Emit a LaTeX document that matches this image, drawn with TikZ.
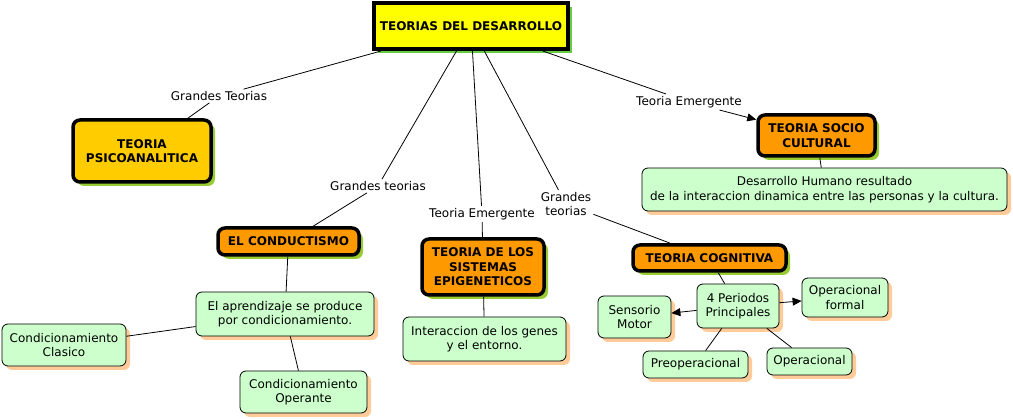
\documentclass[tikz,border=0pt]{standalone}
\usepackage{fontspec}
\setmainfont{DejaVu Sans}
\usetikzlibrary{shadows,arrows.meta}
\definecolor{rootfill}{HTML}{FFFF00}
\definecolor{goldfill}{HTML}{FFCC00}
\definecolor{orangefill}{HTML}{FF9900}
\definecolor{ideafill}{HTML}{CCFFCC}
\definecolor{greenshade}{HTML}{99CC33}
\definecolor{rootshade}{HTML}{66CC44}
\definecolor{tanshade}{HTML}{FFCC99}
\begin{document}
\begin{tikzpicture}[x=1pt,y=-1pt,
  every node/.style={font=\fontsize{12}{14.5}\selectfont, align=center, inner sep=1pt},
  root/.style={rectangle, draw, line width=4pt, fill=rootfill, font=\fontsize{12}{14.5}\selectfont\bfseries,
    drop shadow={shadow xshift=4pt, shadow yshift=-4pt, fill=rootshade, opacity=1}},
  theory/.style={rectangle, rounded corners=7pt, draw, line width=3.5pt, fill=orangefill, font=\fontsize{12}{14.5}\selectfont\bfseries,
    drop shadow={shadow xshift=4pt, shadow yshift=-4pt, fill=greenshade, opacity=1}},
  idea/.style={rectangle, rounded corners=6pt, draw, line width=0.8pt, fill=ideafill,
    drop shadow={shadow xshift=4pt, shadow yshift=-4pt, fill=tanshade, opacity=1}},
  link/.style={fill=white, inner sep=2pt},
  conn/.style={line width=0.8pt},
  arr/.style={line width=0.8pt, -{Triangle[length=9pt,width=8pt]}}]
\useasboundingbox (0,0) rectangle (1013,419);
% theories
\node[root, minimum width=194, minimum height=46] (teo0) at (471,26){TEORIAS DEL DESARROLLO};
\node[theory, fill=goldfill, minimum width=138, minimum height=62] (teo1) at (142,151){TEORIA\\PSICOANALITICA};
\node[theory, minimum width=141, minimum height=27] (teo2) at (288.5,241.5){EL CONDUCTISMO};
\node[theory, minimum width=122, minimum height=56] (teo3) at (483,267){TEORIA DE LOS\\SISTEMAS\\EPIGENETICOS};
\node[theory, minimum width=153, minimum height=26] (teo4) at (709.5,258){TEORIA COGNITIVA};
\node[theory, minimum width=117, minimum height=41] (teo5) at (816.5,135.5){TEORIA SOCIO\\CULTURAL};
% link labels
\node[link] (lab1) at (219,96){Grandes Teorias};
\node[link] (lab2) at (378,186){Grandes teorias};
\node[link] (lab3) at (482,214){Teoria Emergente};
\node[link] (lab4) at (566,204){Grandes\\teorias};
\node[link] (lab5) at (689,102){Teoria Emergente};
\draw[conn](teo0) -- (lab1);
\draw[conn](lab1) -- (teo1);
\draw[conn](teo0) -- (lab2);
\draw[conn](lab2) -- (teo2);
\draw[conn](teo0) -- (lab3);
\draw[conn](lab3) -- (teo3);
\draw[conn](teo0) -- (lab4);
\draw[conn](lab4) -- (teo4);
\draw[conn](teo0) -- (lab5);
\draw[arr](lab5) -- (teo5);
% ideas
\node[idea, minimum width=365, minimum height=43] (box1) at (824.5,189.5){Desarrollo Humano resultado\\de la interaccion dinamica entre las personas y la cultura.};
\node[idea, minimum width=178, minimum height=44] (box2) at (285,314){El aprendizaje se produce\\por condicionamiento.};
\node[idea, minimum width=124, minimum height=42] (box3) at (64,345){Condicionamiento\\Clasico};
\node[idea, minimum width=127, minimum height=42] (box4) at (303.5,392){Condicionamiento\\Operante};
\node[idea, minimum width=163, minimum height=44] (box5) at (484.5,339){Interaccion de los genes\\y el entorno.};
\node[idea, minimum width=82, minimum height=44] (box6) at (738,306){4 Periodos\\Principales};
\node[idea, minimum width=73, minimum height=42] (box7) at (634.5,317){Sensorio\\Motor};
\node[idea, minimum width=86, minimum height=39] (box8) at (845,297.5){Operacional\\formal};
\node[idea, minimum width=105, minimum height=27] (box9) at (695.5,364.5){Preoperacional};
\node[idea, minimum width=85, minimum height=27] (box10) at (809.5,361.5){Operacional};
\draw[conn](teo5) -- (box1);
\draw[conn](teo2) -- (box2);
\draw[conn](box2) -- (box3);
\draw[conn](box2) -- (box4);
\draw[conn](teo3) -- (box5);
\draw[conn](teo4) -- (box6);
\draw[arr](box6) -- (box7);
\draw[arr](box6) -- (box8);
\draw[conn](box6) -- (box9);
\draw[conn](box6) -- (box10);
\end{tikzpicture}
\end{document}
